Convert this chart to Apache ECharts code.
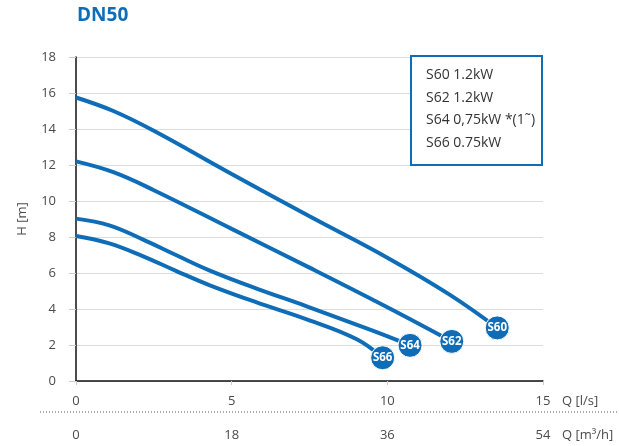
<!DOCTYPE html>
<html><head><meta charset="utf-8">
<script src="https://cdn.jsdelivr.net/npm/echarts@6/dist/echarts.min.js"></script>
<style>html,body{margin:0;padding:0;background:#fff}#c{width:619px;height:446px}</style>
</head><body><div id="c"></div>
<script>
const title = 'DN50';
const seriesNames = ['S60', 'S62', 'S64', 'S66'];
const legendLines = ['S60 1.2kW', 'S62 1.2kW', 'S64 0,75kW *(1˜)', 'S66 0.75kW'];
const s60 = [[0,15.75],[1.2,15.0],[2.5,13.9],[5,11.5],[7.5,9.15],[10,6.85],[12,4.8],[13.53,2.95]];
const s62 = [[0,12.2],[1.2,11.6],[2.5,10.6],[5,8.45],[7.5,6.3],[10,4.1],[12.07,2.2]];
const s64 = [[0,9.02],[1.07,8.65],[2.14,7.87],[3.21,7.0],[4.28,6.15],[5.78,5.15],[7.41,4.15],[9.55,2.78],[10.73,1.98]];
const s66 = [[0,8.06],[1.07,7.65],[2.14,6.94],[3.21,6.12],[4.28,5.33],[5.78,4.38],[7.41,3.43],[9.02,2.32],[9.85,1.29]];
const xTicksLs = [0, 5, 10, 15];
const xTicksM3h = [0, 18, 36, 54];
const yTicks = [0, 2, 4, 6, 8, 10, 12, 14, 16, 18];
const xName1 = 'Q [l/s]';
const xName2 = 'Q [m³/h]';
const yName = 'H [m]';

const BLUE = '#0f6db7';
const TXT = '#4a4a4a';
const FONT = '"Open Sans", "Noto Sans", sans-serif';
const allData = [s60, s62, s64, s66];

const chart = echarts.init(document.getElementById('c'));
chart.setOption({
  animation: false,
  textStyle: {fontFamily: FONT},
  grid: {left: 76, right: 76, top: 57, bottom: 65},
  xAxis: [{
    type: 'value', min: xTicksLs[0], max: xTicksLs[xTicksLs.length-1], interval: 5,
    axisLine: {show: true, onZero: false, lineStyle: {color: '#111', width: 1.5}},
    axisTick: {show: true, length: 4, lineStyle: {color: '#ccc'}},
    axisLabel: {color: TXT, fontSize: 13, margin: 14, fontFamily: FONT},
    splitLine: {show: false}
  }, {
    type: 'value', position: 'bottom', offset: 34,
    min: xTicksM3h[0], max: xTicksM3h[xTicksM3h.length-1], interval: 18,
    axisLine: {show: false}, axisTick: {show: false},
    axisLabel: {color: TXT, fontSize: 13, margin: 14, fontFamily: FONT},
    splitLine: {show: false}
  }],
  yAxis: {
    type: 'value', min: yTicks[0], max: yTicks[yTicks.length-1], interval: 2,
    name: yName, nameLocation: 'middle', nameGap: 47, nameRotate: 90,
    nameTextStyle: {color: TXT, fontSize: 13, fontFamily: FONT},
    axisLine: {show: true, onZero: false, lineStyle: {color: '#111', width: 1.5}},
    axisTick: {show: true, length: 7, lineStyle: {color: '#ccc'}},
    axisLabel: {color: TXT, fontSize: 13, margin: 20, fontFamily: FONT},
    splitLine: {show: true, lineStyle: {color: '#dcdcdc', width: 1}}
  },
  series: seriesNames.map((n, i) => ({
    name: n, type: 'line', xAxisIndex: 0, data: allData[i], smooth: 0.4,
    symbol: 'none', lineStyle: {color: BLUE, width: 4},
    markPoint: {
      symbol: 'circle', symbolSize: 24,
      itemStyle: {color: BLUE, borderColor: '#fff', borderWidth: 1},
      label: {show: true, formatter: n, color: '#fff', fontWeight: 'bold', fontSize: 11.5, fontFamily: FONT},
      data: [{coord: allData[i][allData[i].length-1]}]
    }
  })),
  graphic: [
    {type: 'text', z: 100, left: 77, top: 6, style: {text: title, fill: BLUE, font: 'bold 19px ' + FONT}},
    {type: 'rect', z: 100, shape: {x: 411, y: 56, width: 131, height: 109}, style: {fill: '#fff', stroke: BLUE, lineWidth: 2}},
    ...legendLines.map((t, i) => ({type: 'text', z: 101, x: 426, y: 75 + i*22.7, style: {text: t, fill: '#333', font: '14px ' + FONT, textVerticalAlign: 'middle'}})),
    {type: 'line', z: 100, shape: {x1: 40, y1: 412, x2: 619, y2: 412}, style: {stroke: '#555', lineWidth: 1, lineDash: [1, 2]}},
    {type: 'text', z: 100, x: 562, y: 401, style: {text: xName1, fill: TXT, font: '13px ' + FONT, textVerticalAlign: 'middle'}},
    {type: 'text', z: 100, x: 562, y: 435, style: {text: xName2, fill: TXT, font: '13px ' + FONT, textVerticalAlign: 'middle'}}
  ]
});
</script></body></html>
